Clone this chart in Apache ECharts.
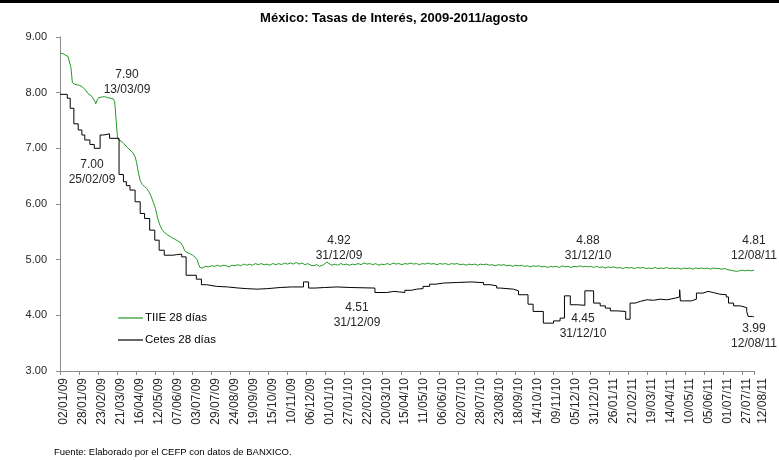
<!DOCTYPE html>
<html><head><meta charset="utf-8">
<script src="https://cdn.jsdelivr.net/npm/echarts@6/dist/echarts.min.js"></script>
<style>html,body{margin:0;padding:0;background:#fff}#chart{width:779px;height:460px}</style>
</head><body><div id="chart"></div>
<script>
// x values are calendar days counted from 02/01/09
const xTickLabels = ['02/01/09','28/01/09','23/02/09','21/03/09','16/04/09','12/05/09','07/06/09','03/07/09','29/07/09','24/08/09','19/09/09','15/10/09','10/11/09','06/12/09','01/01/10','27/01/10','22/02/10','20/03/10','15/04/10','11/05/10','06/06/10','02/07/10','28/07/10','23/08/10','18/09/10','14/10/10','09/11/10','05/12/10','31/12/10','26/01/11','21/02/11','19/03/11','14/04/11','10/05/11','05/06/11','01/07/11','27/07/11','12/08/11'];
const lastDay = 952;
const tickStep = 26;

const tiieDays = [0,4,8,11,13,15,17,20,24,27,30,32,35,38,41,44,46,48,49,51,53,57,61,65,70,73,75,77,79,82,85,88,92,96,100,103,105,107,110,113,116,119,122,125,128,131,133,135,137,140,144,148,153,157,161,165,168,171,174,178,182,185,188,190,192,195,
200,204,208,212,216,220,224,228,232,236,240,244,248,252,256,260,264,268,272,276,280,284,288,292,296,300,304,308,312,316,320,324,328,332,336,340,344,348,352,356,360,363,366,369,373,377,381,385,389,393,397,401,405,409,413,417,421,425,429,433,437,441,445,449,453,457,461,465,469,473,477,481,485,489,493,497,501,505,509,513,517,521,525,529,533,537,541,545,549,553,557,561,565,569,573,577,581,585,589,593,597,601,605,609,613,617,621,625,629,633,637,641,645,649,653,657,661,665,669,673,677,681,685,689,693,697,701,705,709,713,717,721,725,728,732,736,740,744,748,752,756,760,764,768,772,776,780,784,788,792,796,800,804,808,812,816,820,824,828,832,836,840,844,848,852,856,860,864,868,872,876,880,884,888,892,896,900,904,908,912,916,920,924,928,932,936,940,944,948,952];
const tiieValues = [8.71,8.70,8.67,8.65,8.62,8.45,8.18,8.15,8.14,8.13,8.11,8.08,8.05,7.99,7.96,7.93,7.90,7.84,7.80,7.87,7.91,7.92,7.93,7.91,7.90,7.89,7.84,7.50,7.17,7.14,7.12,7.08,7.02,6.97,6.92,6.85,6.75,6.60,6.42,6.35,6.31,6.28,6.22,6.14,6.03,5.92,5.80,5.70,5.62,5.54,5.48,5.44,5.40,5.37,5.34,5.31,5.26,5.16,5.13,5.11,5.08,5.05,5.00,4.92,4.86,4.85,
4.88,4.87,4.89,4.88,4.90,4.88,4.90,4.89,4.87,4.90,4.89,4.91,4.89,4.92,4.90,4.92,4.90,4.93,4.91,4.93,4.91,4.92,4.90,4.93,4.91,4.93,4.91,4.94,4.92,4.94,4.92,4.95,4.92,4.94,4.91,4.93,4.90,4.89,4.91,4.88,4.90,4.92,4.96,4.93,4.90,4.92,4.90,4.93,4.91,4.92,4.90,4.92,4.91,4.93,4.91,4.94,4.92,4.93,4.91,4.93,4.90,4.92,4.91,4.93,4.91,4.94,4.92,4.93,4.91,4.93,4.92,4.94,4.92,4.93,4.91,4.93,4.92,4.94,4.92,4.93,4.91,4.93,4.92,4.93,4.91,4.93,4.92,4.93,4.91,4.92,4.90,4.92,4.91,4.92,4.90,4.92,4.91,4.92,4.90,4.91,4.89,4.91,4.90,4.91,4.89,4.90,4.88,4.90,4.89,4.90,4.88,4.89,4.87,4.89,4.88,4.89,4.87,4.88,4.86,4.88,4.87,4.88,4.86,4.89,4.87,4.88,4.86,4.88,4.87,4.89,4.87,4.88,4.87,4.88,4.86,4.88,4.86,4.87,4.85,4.87,4.86,4.87,4.85,4.86,4.84,4.86,4.85,4.86,4.84,4.86,4.85,4.86,4.84,4.85,4.84,4.86,4.84,4.85,4.84,4.86,4.84,4.85,4.84,4.85,4.83,4.85,4.84,4.85,4.83,4.85,4.84,4.85,4.84,4.85,4.83,4.85,4.84,4.84,4.83,4.84,4.82,4.81,4.80,4.79,4.80,4.81,4.80,4.81,4.80,4.81];

const cetesDays = [0,10,14,19,25,30,34,41,47,55,60,68,81,87,91,96,103,110,116,123,130,136,143,155,160,167,173,187,194,201,215,230,245,256,270,285,302,318,334,341,350,363,380,398,432,448,458,466,473,482,489,498,507,516,526,545,565,576,581,590,599,604,622,629,642,649,663,677,686,692,700,710,720,732,741,748,755,764,776,782,789,796,805,814,823,832,837,844,850,851,857,866,873,882,889,896,905,914,917,924,933,942,944,950,952];
const cetesValues = [7.97,7.90,7.72,7.44,7.33,7.24,7.15,7.07,7.00,7.24,7.26,7.18,6.53,6.40,6.33,6.25,6.04,5.83,5.74,5.53,5.35,5.17,5.08,5.09,5.10,5.05,4.72,4.65,4.55,4.52,4.51,4.49,4.48,4.47,4.48,4.50,4.51,4.51,4.60,4.49,4.50,4.51,4.50,4.49,4.41,4.43,4.42,4.41,4.45,4.47,4.48,4.52,4.56,4.58,4.59,4.60,4.59,4.59,4.55,4.53,4.49,4.47,4.44,4.37,4.20,4.07,3.86,3.90,3.95,4.35,4.19,4.18,4.44,4.22,4.17,4.13,4.08,4.07,3.93,4.22,4.25,4.28,4.27,4.29,4.28,4.29,4.31,4.33,4.46,4.26,4.26,4.29,4.40,4.43,4.41,4.38,4.37,4.33,4.22,4.17,4.14,4.07,3.98,3.97,3.99];

const annotationTexts = ['7.90\n13/03/09','7.00\n25/02/09','4.92\n31/12/09','4.51\n31/12/09','4.88\n31/12/10','4.45\n31/12/10','4.81\n12/08/11','3.99\n12/08/11'];
const annotationPos = [[127,67],[92,157],[339,233],[357,300],[588,233],[583,311],[754,233],[754,321]];

const FONT = 'Liberation Sans';
const tiie = tiieDays.map((d,i)=>[d,tiieValues[i]]);
const cetes = cetesDays.map((d,i)=>[d,cetesValues[i]]);

const chart = echarts.init(document.getElementById('chart'), null, {renderer:'canvas'});
const graphics = [
  {type:'rect', shape:{x:0,y:0,width:779,height:3}, style:{fill:'#000'}},
  {type:'text', style:{text:'México: Tasas de Interés, 2009-2011/agosto', x:394, y:18, align:'center', verticalAlign:'middle', font:'bold 13px "'+FONT+'"', fill:'#000'}},
  {type:'text', style:{text:'Fuente: Elaborado por el CEFP con datos de BANXICO.', x:54, y:452, align:'left', verticalAlign:'middle', font:'9.5px "'+FONT+'"', fill:'#000'}}
];
annotationTexts.forEach((t,i)=>{
  graphics.push({type:'text', z:10, style:{text:t, x:annotationPos[i][0], y:annotationPos[i][1], align:'center', verticalAlign:'top', font:'12px "'+FONT+'"', lineHeight:15, fill:'#262626'}});
});

chart.setOption({
  animation:false,
  textStyle:{fontFamily:FONT},
  grid:{left:60, right:25, top:37, bottom:89, containLabel:false},
  legend:{
    data:['TIIE 28 días','Cetes 28 días'], orient:'vertical', left:113, top:307,
    icon:'rect', itemWidth:25, itemHeight:1.2, itemGap:10,
    textStyle:{fontSize:11.5, color:'#000', fontFamily:FONT, padding:[0,0,0,-3]}
  },
  xAxis:{
    type:'value', min:0, max:lastDay, interval:tickStep,
    axisLine:{lineStyle:{color:'#8c8c8c'}},
    axisTick:{show:true, length:4, lineStyle:{color:'#8c8c8c'}},
    splitLine:{show:false},
    axisLabel:{
      rotate:90, margin:7, fontSize:12, color:'#262626', fontFamily:FONT,
      showMinLabel:true, showMaxLabel:true,
      formatter:function(v){
        if (v === lastDay) return '{last|' + xTickLabels[xTickLabels.length-1] + '}';
        return '{n|' + xTickLabels[Math.round(v/tickStep)] + '}';
      },
      rich:{
        n:{fontSize:12, color:'#262626', fontFamily:FONT, padding:[8,0,0,0]},
        last:{fontSize:12, color:'#262626', fontFamily:FONT, padding:[18,0,0,0]}
      }
    }
  },
  yAxis:{
    type:'value', min:3, max:9, interval:1,
    axisLine:{show:true, lineStyle:{color:'#8c8c8c'}},
    axisTick:{show:true, length:4, lineStyle:{color:'#8c8c8c'}},
    splitLine:{show:false},
    axisLabel:{margin:13, fontSize:11, color:'#262626', fontFamily:FONT, formatter:v=>v.toFixed(2)}
  },
  series:[
    {name:'TIIE 28 días', type:'line', data:tiie, symbol:'none', showSymbol:false,
     lineStyle:{color:'#229a22', width:1}, itemStyle:{color:'#229a22'}},
    {name:'Cetes 28 días', type:'line', step:'end', data:cetes, symbol:'none', showSymbol:false,
     lineStyle:{color:'#000', width:1}, itemStyle:{color:'#000'}}
  ],
  graphic:graphics
});
</script></body></html>
